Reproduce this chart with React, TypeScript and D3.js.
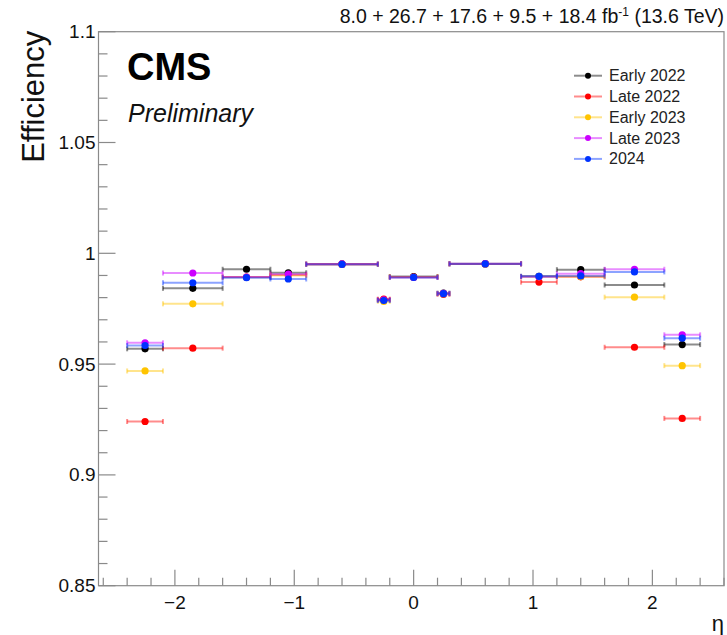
import React from "react";
import * as d3 from "d3";

const binEdges = [-2.4, -2.1, -1.6, -1.2, -0.9, -0.3, -0.2, 0.2, 0.3, 0.9, 1.2, 1.6, 2.1, 2.4];

const seriesNames = ["Early 2022", "Late 2022", "Early 2023", "Late 2023", "2024"];
const seriesColors = ["#000000", "#ff0000", "#ffc400", "#cc00ff", "#0033ff"];

const early2022 = [0.9569, 0.9842, 0.9928, 0.9912, 0.9952, 0.979, 0.9895, 0.982, 0.9953, 0.9896, 0.9926, 0.9857, 0.9588];
const late2022 = [0.9241, 0.9572, 0.9893, 0.9902, 0.995, 0.9793, 0.9893, 0.9815, 0.9952, 0.987, 0.9894, 0.9576, 0.9255];
const early2023 = [0.9469, 0.9772, 0.9892, 0.99, 0.9951, 0.9783, 0.9892, 0.9818, 0.9952, 0.9894, 0.9895, 0.9802, 0.9493];
const late2023 = [0.9596, 0.9911, 0.9893, 0.9906, 0.9952, 0.979, 0.9891, 0.9819, 0.9953, 0.9894, 0.9908, 0.9928, 0.9632];
const y2024 = [0.9584, 0.9867, 0.989, 0.9884, 0.995, 0.9787, 0.9891, 0.9818, 0.9952, 0.9896, 0.9898, 0.9916, 0.9617];

const err2022early = [0.0005, 0.0004, 0.0003, 0.0004, 0.0002, 0.0006, 0.0002, 0.0006, 0.0002, 0.0004, 0.0003, 0.0004, 0.0005];
const err2022late = [0.0007, 0.0013, 0.0004, 0.0005, 0.0002, 0.0009, 0.0003, 0.0009, 0.0002, 0.0005, 0.0004, 0.0006, 0.0007];
const err2023early = [0.0006, 0.0005, 0.0003, 0.0004, 0.0002, 0.0007, 0.0002, 0.0007, 0.0002, 0.0004, 0.0003, 0.0005, 0.0006];
const err2023late = [0.0006, 0.0005, 0.0003, 0.0004, 0.0002, 0.0007, 0.0002, 0.0007, 0.0002, 0.0004, 0.0003, 0.0005, 0.0006];
const err2024 = [0.0005, 0.0004, 0.0003, 0.0003, 0.0002, 0.0006, 0.0002, 0.0006, 0.0002, 0.0003, 0.0003, 0.0004, 0.0005];

const seriesValues = [early2022, late2022, early2023, late2023, y2024];
const seriesErrors = [err2022early, err2022late, err2023early, err2023late, err2024];

const yMajorTicks = [0.85, 0.9, 0.95, 1, 1.05, 1.1];
const yTickLabels = ["0.85", "0.9", "0.95", "1", "1.05", "1.1"];
const xMajorTicks = [-2, -1, 0, 1, 2];
const xTickLabels = ["\u22122", "\u22121", "0", "1", "2"];

const FONT = "'Liberation Sans', Arial, Helvetica, sans-serif";

export default function App() {
  const W = 727;
  const H = 635;
  const left = 98.5;
  const right = 724;
  const top = 31.7;
  const bottom = 585.7;

  const x = d3.scaleLinear().domain([-2.64, 2.6]).range([left, right]);
  const y = d3.scaleLinear().domain([0.85, 1.1]).range([bottom, top]);

  const xMinor = d3.range(-26, 27, 2).map((v) => v / 10).filter((v) => v >= -2.64 && v <= 2.6);
  const yMinor = d3.range(85, 111, 1).map((v) => v / 100);

  const axisColor = "#8a8a8a";

  const bins = binEdges.slice(0, -1).map((lo, i) => ({ lo, hi: binEdges[i + 1], c: (lo + binEdges[i + 1]) / 2 }));

  return (
    <div style={{ position: "absolute", left: 0, top: 0 }}>
      <svg width={W} height={H} style={{ display: "block", background: "#fff" }} fontFamily={FONT}>
        <rect x={0} y={0} width={W} height={H} fill="#fff" />
        {/* frame */}
        <rect x={left} y={top} width={right - left} height={bottom - top} fill="none" stroke={axisColor} strokeWidth={1.2} />
        {/* x ticks */}
        {xMinor.map((v, i) => {
          const isMajor = Math.abs(v - Math.round(v)) < 1e-6;
          return (
            <line key={"xm" + i} x1={x(v)} x2={x(v)} y1={bottom} y2={bottom - (isMajor ? 16 : 8)} stroke={axisColor} strokeWidth={1.2} />
          );
        })}
        {xMajorTicks.map((v, i) => (
          <text key={"xl" + i} x={x(v)} y={bottom + 23} fontSize={19} textAnchor="middle" fill="#111">
            {xTickLabels[i]}
          </text>
        ))}
        {/* y ticks */}
        {yMinor.map((v, i) => {
          const isMajor = Math.abs(v * 20 - Math.round(v * 20)) < 1e-6;
          return (
            <line key={"ym" + i} x1={left} x2={left + (isMajor ? 17 : 9)} y1={y(v)} y2={y(v)} stroke={axisColor} strokeWidth={1.2} />
          );
        })}
        {yMajorTicks.map((v, i) => (
          <text key={"yl" + i} x={left - 3} y={y(v) + 6.5} fontSize={19} textAnchor="end" fill="#111">
            {yTickLabels[i]}
          </text>
        ))}
        {/* axis titles */}
        <text x={right} y={631} fontSize={22} textAnchor="end" fill="#111">
          η
        </text>
        <text transform={`translate(44,${top - 1}) rotate(-90)`} fontSize={31} textAnchor="end" fill="#111">
          Efficiency
        </text>
        {/* header */}
        <text x={right} y={23} fontSize={19.5} textAnchor="end" fill="#111">
          8.0 + 26.7 + 17.6 + 9.5 + 18.4 fb
          <tspan fontSize={12} dy={-7}>-1</tspan>
          <tspan dy={7}> (13.6 TeV)</tspan>
        </text>
        <text x={127} y={80} fontSize={38} fontWeight="bold" fill="#000">
          CMS
        </text>
        <text x={128} y={122} fontSize={25} fontStyle="italic" fill="#111">
          Preliminary
        </text>
        {/* data */}
        {seriesValues.map((vals, s) => (
          <g key={"s" + s}>
            {bins.map((b, i) => {
              const cy = y(vals[i]);
              const e = seriesErrors[s][i];
              return (
                <g key={"b" + i}>
                  <g stroke={seriesColors[s]} strokeOpacity={0.45} strokeWidth={2}>
                    <line x1={x(b.lo)} x2={x(b.hi)} y1={cy} y2={cy} />
                    <line x1={x(b.lo)} x2={x(b.lo)} y1={cy - 2.5} y2={cy + 2.5} />
                    <line x1={x(b.hi)} x2={x(b.hi)} y1={cy - 2.5} y2={cy + 2.5} />
                    <line x1={x(b.c)} x2={x(b.c)} y1={y(vals[i] + e)} y2={y(vals[i] - e)} />
                  </g>
                  <circle cx={x(b.c)} cy={cy} r={3.6} fill={seriesColors[s]} />
                </g>
              );
            })}
          </g>
        ))}
        {/* legend */}
        {seriesNames.map((n, i) => {
          const ly = 75.7 + i * 20.8;
          return (
            <g key={"lg" + i}>
              <line x1={574} x2={602} y1={ly} y2={ly} stroke={seriesColors[i]} strokeOpacity={0.45} strokeWidth={2} />
              <circle cx={588} cy={ly} r={3} fill={seriesColors[i]} />
              <text x={609} y={ly + 5.5} fontSize={16} fill="#222">
                {n}
              </text>
            </g>
          );
        })}
      </svg>
    </div>
  );
}
